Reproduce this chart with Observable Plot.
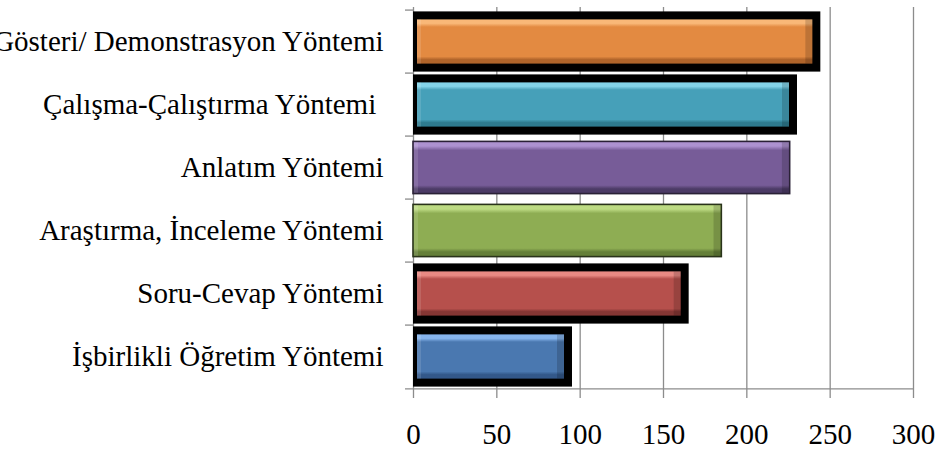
<!DOCTYPE html>
<html><head><meta charset="utf-8">
<script src="https://cdn.jsdelivr.net/npm/d3@7"></script>
<script src="https://cdn.jsdelivr.net/npm/@observablehq/plot@0.6"></script>
<style>body{margin:0;background:#fff;overflow:hidden}</style>
</head><body><div id="chart"></div>
<script>
// ---- data ----
const categories = [
  "Gösteri/ Demonstrasyon Yöntemi",
  "Çalışma-Çalıştırma Yöntemi ",
  "Anlatım Yöntemi",
  "Araştırma, İnceleme Yöntemi",
  "Soru-Cevap Yöntemi",
  "İşbirlikli Öğretim Yöntemi"
];
const values = [242, 228, 226, 185, 163, 93];
const xTicks = [0, 50, 100, 150, 200, 250, 300];

// ---- styles ----
const baseColors = ["#E38A41", "#46A0B9", "#775C98", "#8EAD53", "#B6504C", "#4A78B0"];
const hiColors   = ["#F9B878", "#84D4EA", "#AD92D0", "#BDDB84", "#E88A83", "#86B4EC"];
const darkColors = ["#B0642A", "#2E7A8E", "#4C3B66", "#647F38", "#853634", "#33588A"];
const borderColors = ["#000", "#000", "#2a2136", "#29331a", "#000", "#000"];
const thickBorder = [true, true, false, false, true, true];
const gridColor = "#8c8c8c";

const rows = categories.map((c, i) => ({category: c, value: values[i], idx: i}));
const thick = rows.filter(d => thickBorder[d.idx]);
const thin = rows.filter(d => !thickBorder[d.idx]);
const grad = d => `url(#bevel-${d.idx})`;

const W = 938, H = 456, mT = 7, mB = 66, mL = 413, mR = 25;
const bw = (H - mT - mB) / categories.length;

const chart = Plot.plot({
  width: W, height: H,
  marginLeft: mL, marginRight: mR, marginTop: mT, marginBottom: mB,
  style: {fontFamily: "'Liberation Serif','Times New Roman',serif", fontSize: "29px", color: "#000", background: "#fff"},
  x: {domain: [0, 300], ticks: xTicks, tickSize: 0, tickPadding: 33, label: null},
  y: {domain: categories, padding: 0, tickSize: 0, tickPadding: 30, label: null,
      tickFormat: d => d.replace(/ $/, "\u00a0")},
  color: {type: "identity"},
  marks: [
    Plot.ruleX(xTicks, {stroke: gridColor, strokeWidth: 1.3, insetBottom: -8}),
    Plot.ruleY(categories, {x1: 0, x2: 0, insetLeft: -8, dy: -bw / 2, stroke: gridColor, strokeWidth: 1.3}),
    Plot.ruleY(categories.slice(-1), {insetLeft: -8, dy: bw / 2, stroke: gridColor, strokeWidth: 1.3}),
    // thick black outlines
    Plot.barX(thick, {x: "value", y: "category", fill: d => borderColors[d.idx],
      insetTop: 1.4, insetBottom: 1.4, insetRight: -4}),
    Plot.barX(thick, {x: "value", y: "category", fill: grad,
      insetTop: 9.4, insetBottom: 9.4, insetLeft: 4, insetRight: 4}),
    // thin outlined bars
    Plot.barX(thin, {x: "value", y: "category", fill: grad, stroke: d => borderColors[d.idx],
      strokeWidth: 1.6, insetTop: 5.4, insetBottom: 5.4}),
    // right-end bevel shading
    Plot.barX(thick, {x1: "value", x2: "value", y: "category", fill: "#000", fillOpacity: 0.16,
      insetTop: 9.4, insetBottom: 9.4, insetLeft: -11, insetRight: 4}),
    Plot.barX(thin, {x1: "value", x2: "value", y: "category", fill: "#000", fillOpacity: 0.16,
      insetTop: 6.2, insetBottom: 6.2, insetLeft: -7.8, insetRight: 0.8}),
    // left-end bevel highlight
    Plot.barX(thick, {x1: 0, x2: 0, y: "category", fill: "#fff", fillOpacity: 0.12,
      insetTop: 9.4, insetBottom: 9.4, insetLeft: 4, insetRight: -8}),
    Plot.barX(thin, {x1: 0, x2: 0, y: "category", fill: "#fff", fillOpacity: 0.12,
      insetTop: 6.2, insetBottom: 6.2, insetLeft: 0.8, insetRight: -5})
  ]
});

const svg = d3.select(chart);
const defs = svg.insert("defs", ":first-child");
rows.forEach(d => {
  const g = defs.append("linearGradient").attr("id", `bevel-${d.idx}`)
    .attr("x1", 0).attr("y1", 0).attr("x2", 0).attr("y2", 1);
  const i = d.idx;
  [[0, hiColors[i]], [0.09, hiColors[i]], [0.17, baseColors[i]], [0.84, baseColors[i]],
   [0.91, darkColors[i]], [1, darkColors[i]]].forEach(([o, c]) =>
    g.append("stop").attr("offset", o).attr("stop-color", c));
});
document.getElementById("chart").appendChild(chart);
</script>
</body></html>
